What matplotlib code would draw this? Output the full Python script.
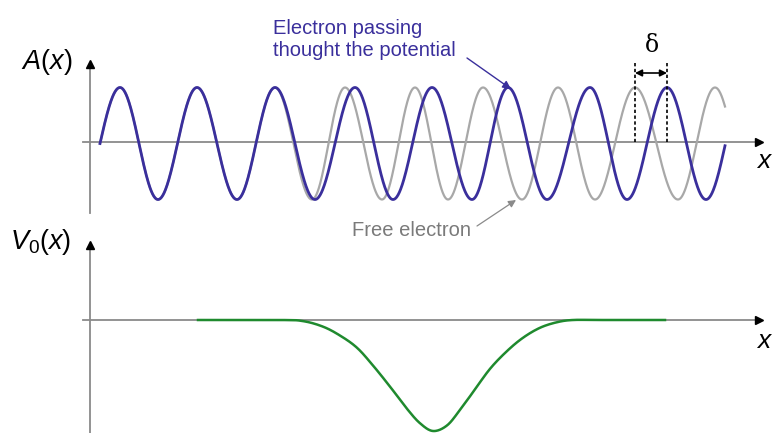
import matplotlib.pyplot as plt
import numpy as np

plt.rcParams['font.family'] = ['Liberation Sans', 'DejaVu Sans']
plt.rcParams['mathtext.fontset'] = 'custom'
plt.rcParams['mathtext.rm'] = 'Liberation Sans'
plt.rcParams['mathtext.it'] = 'Liberation Sans:italic'

# Positions of the crests (+1) and troughs (-1) along x
blaa_x = [120, 158, 197, 237, 275, 315, 355, 393, 432, 472, 508, 547, 590, 627, 667, 706]
graa_x = [120, 158, 197, 237, 275, 312, 345, 382, 415, 448, 483, 522, 558, 595, 635, 678, 715]
x_start = 100
x_slutt = 725

# Potential well V0(x) (0 = flat level, -1 = bottom)
pot_x = [198, 280, 303, 323, 340, 357, 373, 390, 407, 420, 433, 447, 460, 473, 490, 507, 523, 540, 557, 573, 600, 665]
pot_v = [0, 0, -0.01, -0.06, -0.14, -0.25, -0.41, -0.60, -0.80, -0.93, -1.0, -0.95, -0.81, -0.65, -0.44, -0.28, -0.16, -0.07, -0.02, 0, 0, 0]

# Tekstene
tekst_bla = "Electron passing\nthought the potential"
tekst_gra = "Free electron"


def bolge(ekstremer, x_end):
    # fase: 0 ved start, pi/2 ved forste topp, og +pi for hvert ekstrem etter det
    noder = [x_start] + list(ekstremer)
    faser = [0] + [np.pi / 2 + np.pi * i for i in range(len(ekstremer))]
    stig = np.pi / (ekstremer[-1] - ekstremer[-2])
    noder.append(x_end)
    faser.append(faser[-1] + stig * (x_end - ekstremer[-1]))
    xs = np.linspace(x_start, x_end, 1500)
    return xs, np.sin(np.interp(xs, noder, faser))


def glatt(px, py, n=20):
    # Catmull-Rom gjennom punktene, bare for a tegne en myk kurve
    p = np.column_stack([px, py]).astype(float)
    p = np.vstack([p[0], p, p[-1]])
    ut = []
    t = np.linspace(0, 1, n, endpoint=False)[:, None]
    for i in range(1, len(p) - 2):
        p0, p1, p2, p3 = p[i - 1], p[i], p[i + 1], p[i + 2]
        ut.append(0.5 * ((2 * p1) + (-p0 + p2) * t + (2 * p0 - 5 * p1 + 4 * p2 - p3) * t**2
                         + (-p0 + 3 * p1 - 3 * p2 + p3) * t**3))
    ut.append(p[-2][None, :])
    ut = np.vstack(ut)
    return ut[:, 0], ut[:, 1]


fig = plt.figure(figsize=(7.75, 4.33), dpi=100)
ax = fig.add_axes([0, 0, 1, 1])
ax.set_xlim(0, 775)
ax.set_ylim(433, 0)
ax.axis('off')

aksefarge = '#8a8a8a'
bla = '#3a2f9c'
gra = '#a8a8a8'
gronn = '#1f8a2e'

# Top panel: A(x)
y0_a = 142
amp = 56
ax.plot([90, 90], [213, 66], color=aksefarge, lw=1.3)
ax.plot([90], [64], marker='^', color='black', ms=6)
ax.plot([83, 756], [y0_a, y0_a], color=aksefarge, lw=1.3)
ax.plot([759], [y0_a], marker='>', color='black', ms=6)

xs, ys = bolge(graa_x, x_slutt)
ax.plot(xs, y0_a + 1.5 - amp * ys, color=gra, lw=1.6)
xs, ys = bolge(blaa_x, x_slutt)
ax.plot(xs, y0_a + 1.5 - amp * ys, color=bla, lw=2.0)

ax.text(47, 62, r'$A(x)$', fontsize=19.5, ha='center', va='center')
ax.text(773, 161, r'$x$', fontsize=19, ha='right', va='center')

# delta markering
ax.plot([635, 635], [63, 142], color='black', lw=1.2, ls=(0, (2, 1.5)))
ax.plot([667, 667], [63, 142], color='black', lw=1.2, ls=(0, (2, 1.5)))
ax.annotate('', xy=(635, 73), xytext=(667, 73),
            arrowprops=dict(arrowstyle='<|-|>', color='black', lw=1.2,
                            mutation_scale=10, shrinkA=0, shrinkB=0))
ax.text(652, 45, 'δ', fontsize=17, ha='center', va='center', family='DejaVu Serif')

ax.text(273, 39, tekst_bla, fontsize=14.5, color=bla, ha='left', va='center',
        linespacing=1.2)
ax.annotate('', xy=(511, 89), xytext=(467, 58),
            arrowprops=dict(arrowstyle='-|>', color=bla, lw=1.0,
                            mutation_scale=12, shrinkA=0, shrinkB=0))

ax.text(352, 230, tekst_gra, fontsize=14.5, color='#7a7a7a', ha='left', va='center')
ax.annotate('', xy=(516, 200), xytext=(477, 226),
            arrowprops=dict(arrowstyle='-|>', color='#8a8a8a', lw=0.9,
                            mutation_scale=11, shrinkA=0, shrinkB=0))

# Bottom panel: V0(x)
y0_v = 320
dyp = 111
ax.plot([90, 90], [433, 247], color=aksefarge, lw=1.3)
ax.plot([90], [245], marker='^', color='black', ms=6)
ax.plot([83, 756], [y0_v, y0_v], color=aksefarge, lw=1.3)
ax.plot([759], [y0_v], marker='>', color='black', ms=6)

gx, gy = glatt(pot_x, y0_v - dyp * np.array(pot_v))
ax.plot(gx, gy, color=gronn, lw=1.8)

ax.text(41, 242, r'$V_0(x)$', fontsize=19.5, ha='center', va='center')
ax.text(773, 341, r'$x$', fontsize=19, ha='right', va='center')

fig.savefig('out.png', dpi=100)
